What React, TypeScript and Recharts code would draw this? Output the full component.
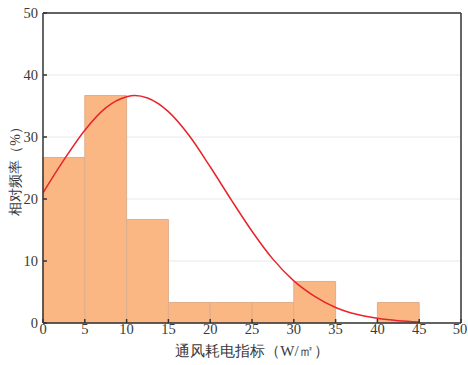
import {
  ComposedChart,
  Line,
  XAxis,
  YAxis,
  CartesianGrid,
  ReferenceArea,
  ReferenceLine,
} from "recharts";

// histogram bins (W/㎡) and relative frequency (%)
const binStarts = [0, 5, 10, 15, 20, 25, 30, 35, 40];
const binEnds = [5, 10, 15, 20, 25, 30, 35, 40, 45];
const frequency = [26.7, 36.7, 16.7, 3.3, 3.3, 3.3, 6.7, 0, 3.3];

// fitted curve
const curveX = [0, 2.5, 5, 7.5, 10, 11, 12.5, 15, 17.5, 20, 22.5, 25, 27.5, 30, 32.5, 35, 37.5, 40, 42.5, 45];
const curveY = [21.0, 26.3, 31.1, 34.7, 36.5, 36.7, 36.3, 34.1, 30.2, 25.2, 19.9, 14.8, 10.3, 6.8, 4.3, 2.5, 1.4, 0.75, 0.37, 0.17];

const xTicks = [0, 5, 10, 15, 20, 25, 30, 35, 40, 45, 50];
const yTicks = [0, 10, 20, 30, 40, 50];

const curveData = curveX.map((x, i) => ({ x, y: curveY[i] }));
const bins = binStarts
  .map((start, i) => ({ start, end: binEnds[i], value: frequency[i] }))
  .filter((b) => b.value > 0);

const serif = "Liberation Serif";
const textColor = "#3a3a3a";
const axisColor = "#333";

function XTick(props: any) {
  const { x, y, payload } = props;
  return (
    <text x={x} y={y + 15} textAnchor="middle" fontFamily={serif} fontSize={14.5} fill={textColor}>
      {payload.value}
    </text>
  );
}

function YTick(props: any) {
  const { x, y, payload } = props;
  return (
    <text x={x} y={y + 5} textAnchor="end" fontFamily={serif} fontSize={14.5} fill={textColor}>
      {payload.value}
    </text>
  );
}

export default function App() {
  return (
    <div style={{ position: "absolute", left: 0, top: 0, background: "#fff" }}>
      <ComposedChart
        width={468}
        height={365}
        data={curveData}
        margin={{ top: 13, right: 7, left: 0, bottom: 0 }}
        style={{ fontFamily: serif }}
      >
        <CartesianGrid vertical={false} stroke="#e8e8e8" />
        {bins.map((b) => (
          <ReferenceArea
            key={b.start}
            x1={b.start}
            x2={b.end}
            y1={0}
            y2={b.value}
            fill="#fbb37c"
            fillOpacity={0.95}
            stroke="#deae8c"
            strokeWidth={1}
            strokeOpacity={1}
            ifOverflow="visible"
          />
        ))}
        <ReferenceLine y={50} stroke={axisColor} strokeWidth={1.5} ifOverflow="visible" />
        <ReferenceLine x={50} stroke={axisColor} strokeWidth={1.5} ifOverflow="visible" />
        <XAxis
          dataKey="x"
          type="number"
          domain={[0, 50]}
          ticks={xTicks}
          allowDataOverflow
          height={42}
          tickSize={-4}
          tickMargin={0}
          tick={<XTick />}
          stroke={axisColor}
          strokeWidth={1.5}
          label={{
            value: "通风耗电指标（W/㎡）",
            position: "insideBottom",
            offset: 9,
            fontFamily: serif,
            fontSize: 15,
            fill: textColor,
          }}
        />
        <YAxis
          type="number"
          domain={[0, 50]}
          ticks={yTicks}
          allowDataOverflow
          width={43}
          tickSize={-4}
          tickMargin={9}
          tick={<YTick />}
          stroke={axisColor}
          strokeWidth={1.5}
          label={{
            value: "相对频率（%）",
            angle: -90,
            position: "insideLeft",
            offset: 15,
            fontFamily: serif,
            fontSize: 14,
            fill: textColor,
            style: { textAnchor: "middle" },
          }}
        />
        <Line
          dataKey="y"
          type="monotone"
          stroke="#e8232b"
          strokeWidth={1.5}
          dot={false}
          activeDot={false}
          isAnimationActive={false}
        />
      </ComposedChart>
    </div>
  );
}
